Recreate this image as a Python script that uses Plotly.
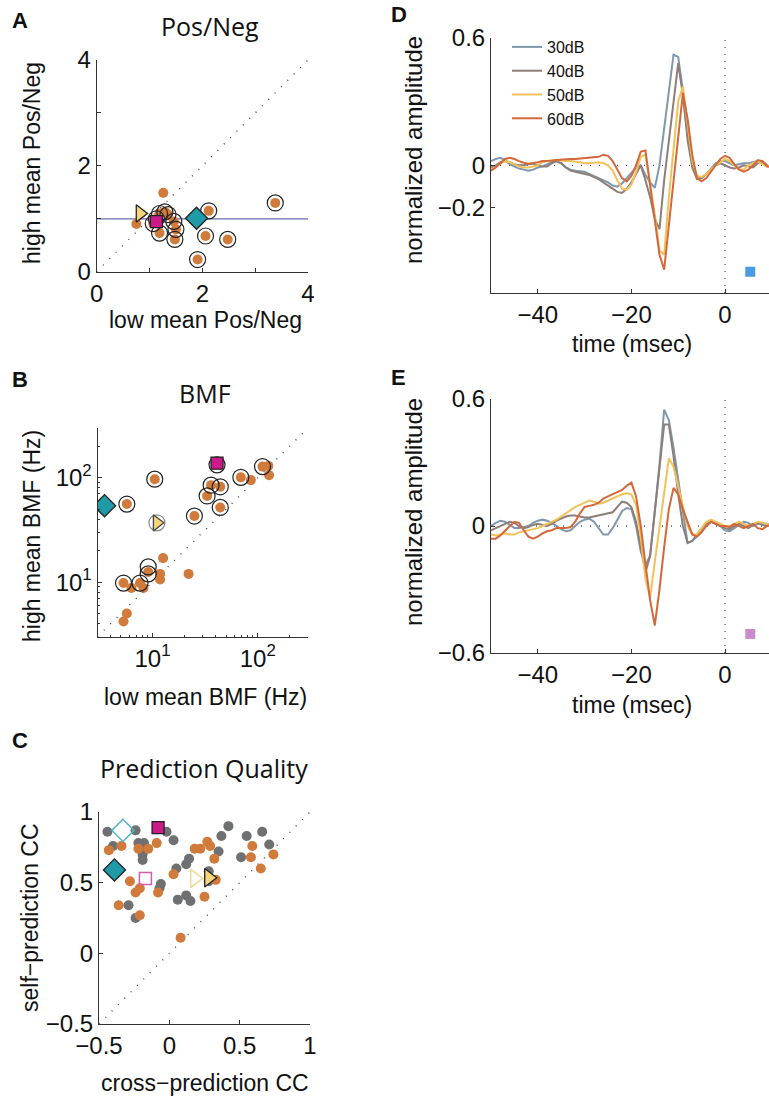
import plotly.graph_objects as go
import math

W, H = 769, 1101

# ---------------- Panel A data (Pos/Neg) ----------------
A_ring_x = [3.38, 2.12, 2.06, 2.48, 1.91, 1.19, 1.48, 1.50, 1.46, 1.29, 1.19, 1.35, 1.13, 1.07]
A_ring_y = [1.30, 1.15, 0.675, 0.61, 0.23, 0.73, 0.61, 0.80, 0.95, 1.13, 1.10, 1.08, 1.00, 0.91]
A_dot_x = [1.26, 0.75]
A_dot_y = [1.49, 0.90]
A_tri = (0.82, 1.10)
A_sq = (1.13, 0.945)
A_dia = (1.89, 1.01)
A_range = [0, 4]
A_ref_level = 1.0

# ---------------- Panel B data (BMF) ----------------
B_ring_x = [10.5, 5.7, 25, 33, 36, 44, 44, 69, 111, 5.3, 7.6, 9.1, 9.1, 41]
B_ring_y = [97, 56, 43, 67, 85, 82, 52, 101, 128, 9.8, 9.8, 14, 12, 133]
B_dot_x = [10.5, 5.7, 25, 33, 36, 44, 44, 69, 111, 5.3, 7.6, 9.1,
           12.6, 11.8, 11.8, 22, 6.3, 8.2, 5.7, 5.3, 86, 128, 126]
B_dot_y = [97, 56, 43, 67, 85, 82, 52, 101, 128, 9.8, 9.8, 12.5,
           17, 12, 10.6, 12, 8.8, 8.8, 5.0, 4.2, 95, 106, 130]
B_tri = (11.0, 37)
B_sq = (41, 138)
B_dia = (3.5, 54)
B_range = [3, 300]

# ---------------- Panel C data (Prediction Quality) ----------------
C_gray_x = [-0.44, -0.24, -0.22, -0.18, -0.19, -0.19, -0.19, -0.02, 0.03, 0.42, 0.37, 0.35, 0.14, 0.12,
            0.05, -0.06, -0.07, 0.06, 0.12, 0.15, -0.29, -0.24, 0.55, 0.66, 0.71, 0.51, 0.28, 0.28, -0.40]
C_gray_y = [0.86, 0.87, 0.78, 0.78, 0.74, 0.70, 0.66, 0.86, 0.80, 0.90, 0.83, 0.72, 0.67, 0.63,
            0.60, 0.49, 0.46, 0.38, 0.41, 0.37, 0.34, 0.25, 0.83, 0.86, 0.77, 0.68, 0.58, 0.51, 0.76]
C_orange_x = [-0.43, -0.34, -0.22, -0.15, -0.09, -0.28, -0.24, -0.21, -0.36, -0.21, -0.08, 0.03, 0.18,
              0.22, 0.27, 0.29, 0.32, 0.33, 0.25, 0.08, 0.59, 0.58, 0.65, 0.74]
C_orange_y = [0.73, 0.76, 0.74, 0.74, 0.78, 0.51, 0.43, 0.46, 0.34, 0.27, 0.43, 0.56, 0.74,
              0.74, 0.79, 0.76, 0.67, 0.52, 0.40, 0.11, 0.76, 0.68, 0.60, 0.70]
C_dia_open = (-0.33, 0.87)
C_dia_fill = (-0.39, 0.59)
C_sq_fill = (-0.08, 0.89)
C_sq_open = (-0.17, 0.53)
C_tri_open = (0.18, 0.53)
C_tri_fill = (0.28, 0.535)
C_range = [-0.5, 1]

# ---------------- Panels D / E data ----------------
time_ms = list(range(-50, 11))
levels = ["30dB", "40dB", "50dB", "60dB"]
D_30 = [0.02, 0.03, 0.035, 0.025, 0.005, -0.005, -0.015, -0.02, -0.025, -0.02,
        -0.01, -0.005, 0.005, 0.015, 0.02, 0.01, -0.01, -0.02, -0.025, -0.028,
        -0.03, -0.04, -0.05, -0.06, -0.07, -0.08, -0.095, -0.10, -0.085, -0.06,
        -0.035, -0.01, 0.0, -0.045, -0.08, -0.106, 0.0, 0.18, 0.36, 0.52,
        0.51, 0.35, 0.15, 0.0, -0.05, -0.06, -0.04, -0.015, 0.01, 0.02,
        0.02, 0.01, 0.0, 0.005, 0.01, 0.01, 0.015, 0.02, 0.01, -0.005, 0.0]
D_40 = [-0.01, 0.0, 0.015, 0.02, 0.015, 0.005, 0.0, 0.0, 0.005, 0.008,
        0.0, -0.005, -0.005, 0.01, 0.02, 0.01, -0.01, -0.025, -0.03, -0.035,
        -0.04, -0.045, -0.055, -0.065, -0.08, -0.095, -0.11, -0.125, -0.13, -0.11,
        -0.08, -0.04, 0.0, -0.07, -0.15, -0.25, -0.30, -0.07, 0.11, 0.30,
        0.48, 0.33, 0.12, -0.01, -0.065, -0.06, -0.04, -0.02, 0.0, 0.01,
        0.0, -0.01, -0.015, -0.01, 0.0, -0.005, -0.01, 0.01, 0.02, 0.0, -0.01]
D_50 = [-0.02, -0.01, 0.01, 0.02, 0.015, 0.005, -0.005, -0.01, -0.01, -0.005,
        0.0, 0.015, 0.02, 0.025, 0.025, 0.022, 0.02, 0.02, 0.018, 0.015,
        0.01, 0.01, 0.012, 0.015, 0.01, 0.0, -0.025, -0.07, -0.11, -0.115,
        -0.09, -0.03, 0.04, 0.05, -0.08, -0.23, -0.40, -0.42, -0.15, 0.08,
        0.30, 0.37, 0.20, 0.02, -0.05, -0.055, -0.04, -0.02, 0.0, 0.015,
        0.03, 0.02, 0.0, -0.02, -0.02, 0.0, 0.01, 0.02, 0.005, -0.005, 0.0]
D_60 = [-0.025, -0.01, 0.01, 0.03, 0.035, 0.03, 0.02, 0.012, 0.008, 0.01,
        0.015, 0.02, 0.02, 0.022, 0.025, 0.027, 0.03, 0.03, 0.03, 0.032,
        0.033, 0.033, 0.035, 0.04, 0.05, 0.045, 0.02, -0.02, -0.06, -0.075,
        -0.05, 0.0, 0.065, 0.07, -0.10, -0.26, -0.42, -0.49, -0.28, -0.07,
        0.14, 0.34, 0.22, 0.05, -0.06, -0.075, -0.06, -0.03, 0.0, 0.03,
        0.045, 0.035, 0.005, -0.02, -0.03, -0.02, 0.0, 0.025, 0.02, -0.005, -0.01]
E_30 = [0.0, 0.015, 0.025, 0.02, 0.005, -0.01, -0.01, -0.005, 0.0, 0.015,
        0.025, 0.03, 0.025, 0.015, 0.0, -0.015, -0.025, -0.02, 0.0, 0.02,
        0.03, 0.035, 0.02, -0.01, -0.04, -0.04, -0.01, 0.03, 0.07, 0.085,
        0.08, 0.0, -0.12, -0.185, -0.14, 0.07, 0.29, 0.55, 0.50, 0.37,
        0.22, 0.07, -0.08, -0.07, -0.05, -0.02, 0.0, 0.02, 0.015, 0.0,
        -0.02, -0.025, -0.01, 0.005, 0.02, 0.015, 0.0, 0.01, 0.015, 0.01, 0.005]
E_40 = [-0.02, -0.01, 0.0, 0.01, 0.02, 0.015, 0.0, -0.01, -0.005, 0.005,
        0.01, 0.005, 0.0, 0.01, 0.025, 0.035, 0.045, 0.05, 0.05, 0.045,
        0.04, 0.04, 0.045, 0.05, 0.055, 0.06, 0.065, 0.09, 0.115, 0.11,
        0.09, 0.02, -0.10, -0.22, -0.14, 0.06, 0.27, 0.48, 0.48, 0.33,
        0.15, 0.0, -0.08, -0.07, -0.04, -0.01, 0.01, 0.02, 0.01, 0.0,
        -0.01, -0.015, 0.0, 0.01, 0.0, -0.01, 0.005, 0.015, 0.005, 0.0, 0.005]
E_50 = [-0.04, -0.045, -0.04, -0.035, -0.04, -0.04, -0.03, -0.025, -0.02, -0.015,
        -0.01, 0.0, 0.01, 0.02, 0.03, 0.045, 0.06, 0.075, 0.09, 0.10,
        0.11, 0.12, 0.115, 0.105, 0.11, 0.12, 0.13, 0.14, 0.15, 0.155,
        0.15, 0.10, -0.05, -0.25, -0.34, -0.17, -0.01, 0.15, 0.32, 0.28,
        0.19, 0.10, 0.0, -0.04, -0.04, -0.01, 0.02, 0.03, 0.02, 0.01,
        0.0, 0.0, 0.01, 0.02, 0.01, 0.0, 0.01, 0.02, 0.015, 0.01, 0.0]
E_60 = [-0.06, -0.06, -0.045, -0.02, 0.0, 0.02, 0.015, -0.02, -0.05, -0.06,
        -0.05, -0.035, -0.025, -0.02, -0.01, -0.01, -0.01, -0.005, 0.02, 0.06,
        0.09, 0.095, 0.10, 0.11, 0.13, 0.14, 0.15, 0.16, 0.17, 0.19,
        0.205, 0.14, 0.0, -0.18, -0.35, -0.47, -0.30, -0.10, 0.08, 0.18,
        0.15, 0.08, 0.02, -0.04, -0.05, -0.03, 0.0, 0.02, 0.01, 0.0,
        0.0, -0.005, 0.01, 0.0, -0.01, 0.0, 0.01, -0.01, -0.015, 0.0, 0.005]
D_marker = (5.4, -0.50)
E_marker = (5.4, -0.51)
DE_xrange = [-50, 9.4]
DE_yrange = [-0.6, 0.6]

# ---------------- styles ----------------
ORANGE = "#d07a3c"
GRAY = "#6f7072"
MAGENTA = "#cc1a8a"
TEAL = "#1f9aa6"
YELLOW = "#f6d47a"
LINE_COLORS = ["#7f98ad", "#8e7e78", "#f2c25a", "#d3683a"]
FONT = "Liberation Sans, Arial, Helvetica, sans-serif"
TITLE_FONT = "Open Sans, Noto Sans, sans-serif"
DOT = dict(color="#444", width=1.4, dash="1px,8px")

fig = go.Figure()


def px2paper(px, py):
    return px / W, 1 - py / H


def dom(x0, x1, y0, y1):
    return [x0 / W, x1 / W], [1 - y1 / H, 1 - y0 / H]


def sc(xa, ya, x, y, **kw):
    fig.add_trace(go.Scatter(x=x, y=y, xaxis=xa, yaxis=ya, showlegend=kw.pop("showlegend", False), **kw))


# ----- Panel A -----
sc("x", "y", A_range, A_range, mode="lines", line=DOT, hoverinfo="skip")
sc("x", "y", A_range, [A_ref_level, A_ref_level], mode="lines", line=dict(color="#6a6ab4", width=1.3))
sc("x", "y", A_dot_x + A_ring_x, A_dot_y + A_ring_y, mode="markers",
   marker=dict(size=10, color=ORANGE))
sc("x", "y", A_ring_x, A_ring_y, mode="markers",
   marker=dict(size=16, symbol="circle-open", color="#222", line=dict(width=1.2)))
sc("x", "y", [A_tri[0]], [A_tri[1]], mode="markers",
   marker=dict(size=15, symbol="triangle-right", color=YELLOW, line=dict(color="#222", width=1.3)))
sc("x", "y", [A_sq[0]], [A_sq[1]], mode="markers",
   marker=dict(size=12, symbol="square", color=MAGENTA, line=dict(color="#222", width=1.3)))
sc("x", "y", [A_dia[0]], [A_dia[1]], mode="markers",
   marker=dict(size=17, symbol="diamond", color=TEAL, line=dict(color="#222", width=1.3)))

# ----- Panel B -----
sc("x2", "y2", B_range, B_range, mode="lines", line=DOT)
sc("x2", "y2", B_dot_x, B_dot_y, mode="markers", marker=dict(size=10, color=ORANGE))
sc("x2", "y2", B_ring_x, B_ring_y, mode="markers",
   marker=dict(size=16, symbol="circle-open", color="#222", line=dict(width=1.2)))
sc("x2", "y2", [B_tri[0]], [B_tri[1]], mode="markers",
   marker=dict(size=16, symbol="circle-open", color="#888", line=dict(width=1.2)))
sc("x2", "y2", [B_tri[0]], [B_tri[1]], mode="markers",
   marker=dict(size=14, symbol="triangle-right", color=YELLOW, line=dict(color="#444", width=1.3)))
sc("x2", "y2", [B_sq[0]], [B_sq[1]], mode="markers",
   marker=dict(size=12, symbol="square", color=MAGENTA, line=dict(color="#222", width=1.3)))
sc("x2", "y2", [B_dia[0]], [B_dia[1]], mode="markers",
   marker=dict(size=17, symbol="diamond", color=TEAL, line=dict(color="#222", width=1.3)))

# ----- Panel C -----
sc("x3", "y3", C_range, C_range, mode="lines", line=DOT)
sc("x3", "y3", C_gray_x, C_gray_y, mode="markers", marker=dict(size=10, color=GRAY))
sc("x3", "y3", C_orange_x, C_orange_y, mode="markers", marker=dict(size=10, color=ORANGE))
sc("x3", "y3", [C_dia_open[0]], [C_dia_open[1]], mode="markers",
   marker=dict(size=17, symbol="diamond-open", color="#4fb8c4", line=dict(width=1.5)))
sc("x3", "y3", [C_dia_fill[0]], [C_dia_fill[1]], mode="markers",
   marker=dict(size=17, symbol="diamond", color=TEAL, line=dict(color="#222", width=1.3)))
sc("x3", "y3", [C_sq_fill[0]], [C_sq_fill[1]], mode="markers",
   marker=dict(size=12, symbol="square", color=MAGENTA, line=dict(color="#222", width=1.3)))
sc("x3", "y3", [C_sq_open[0]], [C_sq_open[1]], mode="markers",
   marker=dict(size=12, symbol="square-open", color="#d85aa8", line=dict(width=1.5)))
sc("x3", "y3", [C_tri_open[0]], [C_tri_open[1]], mode="markers",
   marker=dict(size=16, symbol="triangle-right-open", color="#f3d98a", line=dict(width=1.5)))
sc("x3", "y3", [C_tri_fill[0]], [C_tri_fill[1]], mode="markers",
   marker=dict(size=16, symbol="triangle-right", color=YELLOW, line=dict(color="#222", width=1.3)))

# ----- Panels D and E -----
for xa, ya, series, sqpos, sqcol, leg in [
    ("x4", "y4", [D_30, D_40, D_50, D_60], D_marker, "#4a9be0", True),
    ("x5", "y5", [E_30, E_40, E_50, E_60], E_marker, "#c98ccb", False),
]:
    sc(xa, ya, DE_xrange, [0, 0], mode="lines", line=dict(color="#555", width=1.3, dash="1px,8px"))
    sc(xa, ya, [0, 0], DE_yrange, mode="lines", line=dict(color="#555", width=1.3, dash="1px,6px"))
    for name, vals, col in zip(levels, series, LINE_COLORS):
        sc(xa, ya, time_ms, vals, mode="lines", name=name, showlegend=leg,
           line=dict(color=col, width=2))
    sc(xa, ya, [sqpos[0]], [sqpos[1]], mode="markers",
       marker=dict(size=10, symbol="square", color=sqcol))

axis_common = dict(showline=True, linecolor="#333", linewidth=1, ticks="inside", ticklen=4,
                   tickcolor="#333", showgrid=False, zeroline=False, mirror=False, automargin=False,
                   tickfont=dict(family=FONT, size=24, color="#111"))

xA, yA = dom(96.7, 308, 60, 271.7)
xB, yB = dom(97.5, 308, 428, 636.7)
xC, yC = dom(99, 310, 812, 1024)
xD, yD = dom(491, 769, 37.7, 293)
xE, yE = dom(491, 769, 399, 653)

log_minor = [4, 5, 6, 7, 8, 9, 20, 30, 40, 50, 60, 70, 80, 90, 200]
minorA = dict(tickvals=[1, 3], ticks="inside", ticklen=4, tickcolor="#333")
minorB = dict(tickvals=log_minor, ticks="inside", ticklen=2, tickcolor="#333")

fig.update_layout(
    template="none",
    width=W, height=H, autosize=False, margin=dict(l=0, r=0, t=0, b=0, autoexpand=False),
    paper_bgcolor="white", plot_bgcolor="white",
    showlegend=True,
    legend=dict(x=507 / W, y=1 - 30 / H, xanchor="left", yanchor="top",
                bgcolor="rgba(0,0,0,0)", font=dict(family=FONT, size=16, color="#111"),
                itemwidth=30, tracegroupgap=0),
    xaxis=dict(domain=xA, anchor="y", range=A_range, tickvals=[0, 2, 4], minor=minorA, **axis_common),
    yaxis=dict(domain=yA, anchor="x", range=A_range, tickvals=[0, 2, 4], minor=minorA, **axis_common),
    xaxis2=dict(domain=xB, anchor="y2", type="log", range=[math.log10(B_range[0]), math.log10(B_range[1])],
                tickvals=[10, 100], ticktext=["10<sup>1</sup>", "10<sup>2</sup>"],
                minor=minorB, **axis_common),
    yaxis2=dict(domain=yB, anchor="x2", type="log", range=[math.log10(B_range[0]), math.log10(B_range[1])],
                tickvals=[10, 100], ticktext=["10<sup>1</sup>", "10<sup>2</sup>"],
                minor=minorB, **axis_common),
    xaxis3=dict(domain=xC, anchor="y3", range=C_range, tickvals=[-0.5, 0, 0.5, 1],
                ticktext=["\u22120.5", "0", "0.5", "1"], **axis_common),
    yaxis3=dict(domain=yC, anchor="x3", range=C_range, tickvals=[-0.5, 0, 0.5, 1],
                ticktext=["\u22120.5", "0", "0.5", "1"], **axis_common),
    xaxis4=dict(domain=xD, anchor="y4", range=DE_xrange, tickvals=[-40, -20, 0],
                ticktext=["\u221240", "\u221220", "0"], **axis_common),
    yaxis4=dict(domain=yD, anchor="x4", range=DE_yrange, tickvals=[-0.2, 0, 0.6],
                ticktext=["\u22120.2", "0", "0.6"], **axis_common),
    xaxis5=dict(domain=xE, anchor="y5", range=DE_xrange, tickvals=[-40, -20, 0],
                ticktext=["\u221240", "\u221220", "0"], **axis_common),
    yaxis5=dict(domain=yE, anchor="x5", range=DE_yrange, tickvals=[-0.6, 0, 0.6],
                ticktext=["\u22120.6", "0", "0.6"], **axis_common),
)

annots = []


def ann(text, px, py, size, family=FONT, angle=0, bold=False, anchor="center"):
    x, y = px2paper(px, py)
    t = f"<b>{text}</b>" if bold else text
    annots.append(dict(text=t, x=x, y=y, xref="paper", yref="paper", showarrow=False,
                       xanchor=anchor, yanchor="middle", textangle=angle,
                       font=dict(family=family, size=size, color="#111")))


# panel letters
ann("A", 20, 20, 22, bold=True)
ann("B", 20, 379, 22, bold=True)
ann("C", 20, 740, 22, bold=True)
ann("D", 399, 15, 22, bold=True)
ann("E", 399, 377, 22, bold=True)
# titles
ann("Pos/Neg", 210, 26, 25, family=TITLE_FONT)
ann("BMF", 205, 393, 25, family=TITLE_FONT)
ann("Prediction Quality", 204, 768, 25, family=TITLE_FONT)
# axis titles
ann("low mean Pos/Neg", 205, 320, 23)
ann("high mean Pos/Neg", 32, 163, 23, angle=-90)
ann("low mean BMF (Hz)", 205, 697, 23)
ann("high mean BMF (Hz)", 32, 536, 23, angle=-90)
ann("cross\u2212prediction CC", 205, 1083, 23)
ann("self\u2212prediction CC", 30, 918, 23, angle=-90)
ann("normalized amplitude", 413, 150, 24, angle=-90)
ann("time (msec)", 632, 344, 23)
ann("normalized amplitude", 413, 512, 24, angle=-90)
ann("time (msec)", 632, 705, 23)

fig.update_layout(annotations=annots)
fig.write_html("out.html", config={"displayModeBar": False},
               post_script="document.body.style.margin='0px';document.body.style.overflow='hidden';")
